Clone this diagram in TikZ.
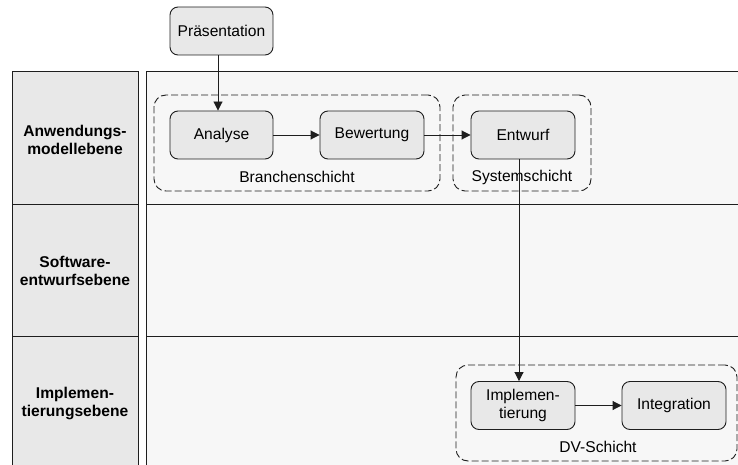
\documentclass[tikz,border=0pt]{standalone}
\usepackage{fontspec}
\setmainfont{Liberation Sans}
\usetikzlibrary{arrows.meta}
\definecolor{boxfill}{HTML}{E8E8E8}
\definecolor{lanebg}{HTML}{F7F7F7}
\definecolor{edgecol}{HTML}{1E1E1E}
\begin{document}
\begin{tikzpicture}[x=1pt,y=-1pt,
  font=\fontsize{15.6}{17.5}\selectfont,
  proc/.style={draw=edgecol, fill=boxfill, rounded corners=8pt, minimum width=103pt, minimum height=48pt, inner sep=2pt, align=center, line width=0.9pt},
  grp/.style={draw=edgecol, dash pattern=on 7pt off 3pt, rounded corners=12pt, minimum height=96pt, inner sep=0pt, line width=0.9pt},
  arr/.style={draw=edgecol, line width=0.9pt, -{Triangle[length=9pt,width=9pt]}},
  lanelbl/.style={font=\fontsize{15.6}{18}\selectfont\bfseries, align=center},
  frame/.style={draw=edgecol, line width=0.9pt}]
\useasboundingbox (0,0) rectangle (738,465);
\clip (0,0) rectangle (738,465);
% lanes
\fill[boxfill] (12,71) rectangle (138,470);
\draw[frame] (12,470) -- (12,71) -- (138,71) -- (138,470);
\draw[frame] (12,204) -- (138,204);
\draw[frame] (12,336) -- (138,336);
\fill[lanebg] (146,71) rectangle (742,470);
\draw[frame] (146,470) -- (146,71) -- (742,71);
\draw[frame] (146,204) -- (742,204);
\draw[frame] (146,336) -- (742,336);
\node[lanelbl] (l1) at (75,140) {Anwendungs-\\modellebene};
\node[lanelbl] (l2) at (75,271) {Software-\\entwurfsebene};
\node[lanelbl] (l3) at (75,403) {Implemen-\\tierungsebene};
% groups
\node[grp, minimum width=286pt] (branch) at (297,143) {};
\node (branchlbl) at (297,177) {Branchenschicht};
\node[grp, minimum width=138pt] (sys) at (522,143) {};
\node (syslbl) at (522,177) {Systemschicht};
\node[grp, minimum width=281pt] (dv) at (596.5,413) {};
\node (dvlbl) at (598,447) {DV-Schicht};
% processes
\node[proc] (pres) at (221.5,31) {Präsentation};
\node[proc] (ana) at (221.5,135) {Analyse};
\node[proc, minimum width=104pt] (bew) at (372,135) {Bewertung};
\node[proc, minimum width=104pt] (entw) at (523,135) {Entwurf};
\node[proc, minimum width=104pt] (impl) at (523,405.5) {Implemen-\\tierung};
\node[proc, minimum width=104pt] (integ) at (674,405.5) {Integration};
% connectors
\draw[arr] ([xshift=-3.5pt]pres.south) -- ([xshift=-3.5pt]ana.north);
\draw[arr] (ana) -- (bew);
\draw[arr] (bew) -- (entw);
\draw[arr] ([xshift=-4pt]entw.south) -- ([xshift=-4pt]impl.north);
\draw[arr] (impl) -- (integ);
\end{tikzpicture}
\end{document}
